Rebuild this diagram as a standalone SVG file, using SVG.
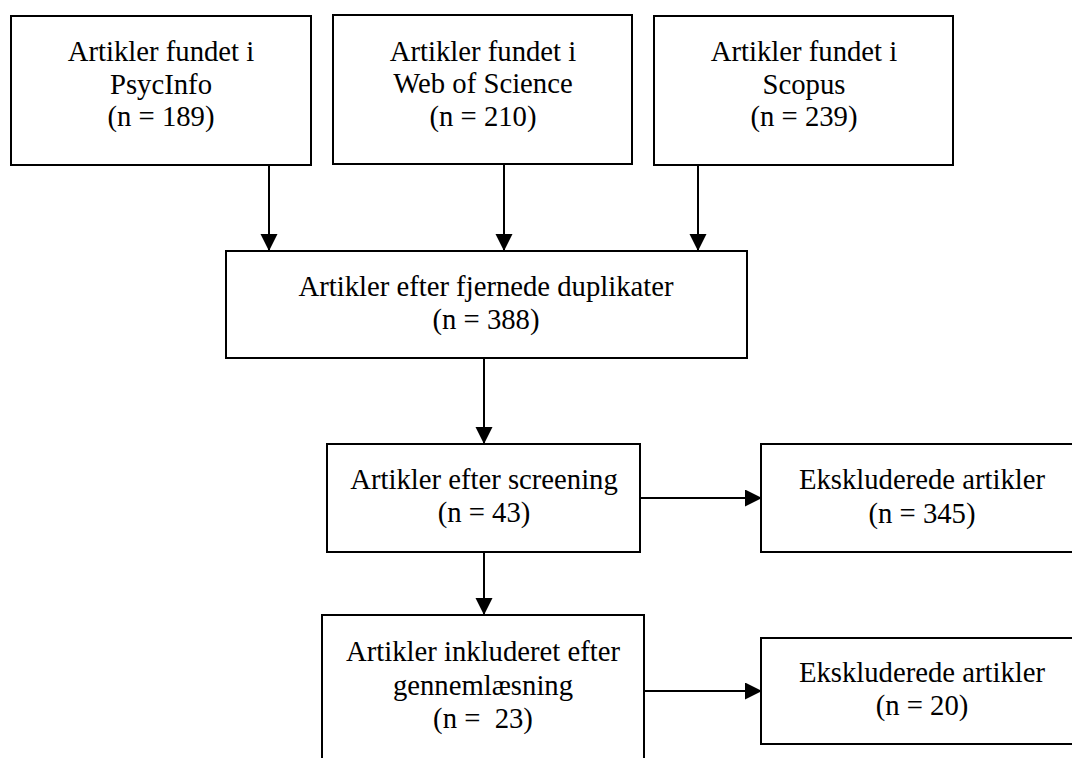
<svg xmlns="http://www.w3.org/2000/svg" width="1072" height="758" viewBox="0 0 1072 758">
<style>
.box{fill:#fff;stroke:#000;stroke-width:2}
.lbl{font-family:"Liberation Serif","Times New Roman",serif;font-size:28.7px;fill:#000;text-anchor:middle}
.con{stroke:#000;stroke-width:2;fill:none}
</style>
<defs>
<marker id="ah" markerUnits="userSpaceOnUse" markerWidth="18" markerHeight="18" refX="17" refY="8.5" orient="auto">
<path d="M0,0 L17,8.5 L0,17 z" fill="#000"/>
</marker>
</defs>
<rect width="1072" height="758" fill="#fff"/>
<g id="connectors">
<line class="con" x1="269" y1="165" x2="269" y2="251" marker-end="url(#ah)"/>
<line class="con" x1="504" y1="164" x2="504" y2="251" marker-end="url(#ah)"/>
<line class="con" x1="698" y1="165" x2="698" y2="251" marker-end="url(#ah)"/>
<line class="con" x1="484" y1="358" x2="484" y2="444" marker-end="url(#ah)"/>
<line class="con" x1="484" y1="552" x2="484" y2="615" marker-end="url(#ah)"/>
<line class="con" x1="640" y1="498" x2="762" y2="498" marker-end="url(#ah)"/>
<line class="con" x1="644" y1="691" x2="762" y2="691" marker-end="url(#ah)"/>
</g>
<g id="psycinfo">
<rect class="box" x="11" y="16" width="300" height="149"/>
<text class="lbl" x="161" y="61">Artikler fundet i</text>
<text class="lbl" x="161" y="94">PsycInfo</text>
<text class="lbl" x="161" y="126">(n = 189)</text>
</g>
<g id="wos">
<rect class="box" x="333" y="15" width="299" height="149"/>
<text class="lbl" x="483" y="61">Artikler fundet i</text>
<text class="lbl" x="483" y="93">Web of Science</text>
<text class="lbl" x="483" y="126">(n = 210)</text>
</g>
<g id="scopus">
<rect class="box" x="654" y="16" width="299" height="149"/>
<text class="lbl" x="804" y="61">Artikler fundet i</text>
<text class="lbl" x="804" y="94">Scopus</text>
<text class="lbl" x="804" y="126">(n = 239)</text>
</g>
<g id="dedup">
<rect class="box" x="226" y="251" width="521" height="107"/>
<text class="lbl" x="486" y="296">Artikler efter fjernede duplikater</text>
<text class="lbl" x="486" y="329">(n = 388)</text>
</g>
<g id="screening">
<rect class="box" x="327" y="444" width="313" height="108"/>
<text class="lbl" x="484" y="489">Artikler efter screening</text>
<text class="lbl" x="484" y="522">(n = 43)</text>
</g>
<g id="excluded1">
<rect class="box" x="761" y="444" width="324" height="108"/>
<text class="lbl" x="922" y="489">Ekskluderede artikler</text>
<text class="lbl" x="922" y="523">(n = 345)</text>
</g>
<g id="included">
<rect class="box" x="322" y="615" width="322" height="160"/>
<text class="lbl" x="483" y="661">Artikler inkluderet efter</text>
<text class="lbl" x="483" y="695">gennemlæsning</text>
<text class="lbl" x="483" y="728" xml:space="preserve">(n =  23)</text>
</g>
<g id="excluded2">
<rect class="box" x="761" y="638" width="324" height="106"/>
<text class="lbl" x="922" y="682">Ekskluderede artikler</text>
<text class="lbl" x="922" y="715">(n = 20)</text>
</g>
</svg>
